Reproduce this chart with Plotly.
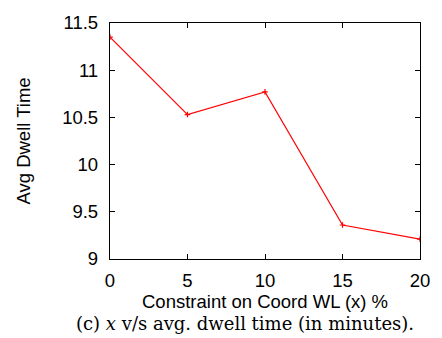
import plotly.graph_objects as go

x_vals = [0, 5, 10, 15, 20]
dwell = [11.35, 10.53, 10.77, 9.36, 9.21]
x_ticks = [0, 5, 10, 15, 20]
y_ticks = [9, 9.5, 10, 10.5, 11, 11.5]
y_labels = ["9", "9.5", "10", "10.5", "11", "11.5"]

W, H = 442, 338
L, R, T, B = 110, 13, 17, 79

fig = go.Figure()
fig.add_trace(go.Scatter(
    x=x_vals, y=dwell, mode="lines+markers",
    line=dict(color="#ff0000", width=1.2),
    marker=dict(symbol="cross-thin", size=4, color="#ff0000", line=dict(color="#ff0000", width=1.2)),
    showlegend=False,
))

axis_font = dict(family="Liberation Sans, Arial, sans-serif", size=18.5, color="black")
fig.update_layout(
    width=W, height=H,
    margin=dict(l=L, r=R, t=T, b=B),
    paper_bgcolor="white", plot_bgcolor="white",
    xaxis=dict(range=[0, 20], tickvals=x_ticks, ticks="inside", ticklen=5,
               tickcolor="black", showline=True, linecolor="black", linewidth=1.3,
               mirror="ticks", showgrid=False, zeroline=False, tickfont=axis_font,
               ticklabelstandoff=5),
    yaxis=dict(range=[9, 11.5], tickvals=y_ticks, ticktext=y_labels, ticks="inside", ticklen=5,
               tickcolor="black", showline=True, linecolor="black", linewidth=1.3,
               mirror="ticks", showgrid=False, zeroline=False, tickfont=axis_font,
               ticklabelstandoff=7),
)

fig.add_annotation(text="Avg Dwell Time", xref="paper", yref="paper",
                   x=(20 - L) / (W - L - R), y=0.5, textangle=-90, showarrow=False,
                   font=dict(family="Liberation Sans, Arial, sans-serif", size=18.5, color="black"),
                   xanchor="center", yanchor="middle")
fig.add_annotation(text="Constraint on Coord WL (x) %", xref="paper", yref="paper",
                   x=0.5, y=-(303 - (H - B)) / (H - T - B), showarrow=False,
                   font=dict(family="Liberation Sans, Arial, sans-serif", size=18.5, color="black"),
                   xanchor="center", yanchor="middle")
fig.add_annotation(text="(c) <i>x</i> v/s avg. dwell time (in minutes).", xref="paper", yref="paper",
                   x=(249 - L) / (W - L - R), y=-(325 - (H - B)) / (H - T - B), showarrow=False,
                   font=dict(family="DejaVu Serif, serif", size=18, color="black"),
                   xanchor="center", yanchor="middle")

fig.write_html("out.html")
